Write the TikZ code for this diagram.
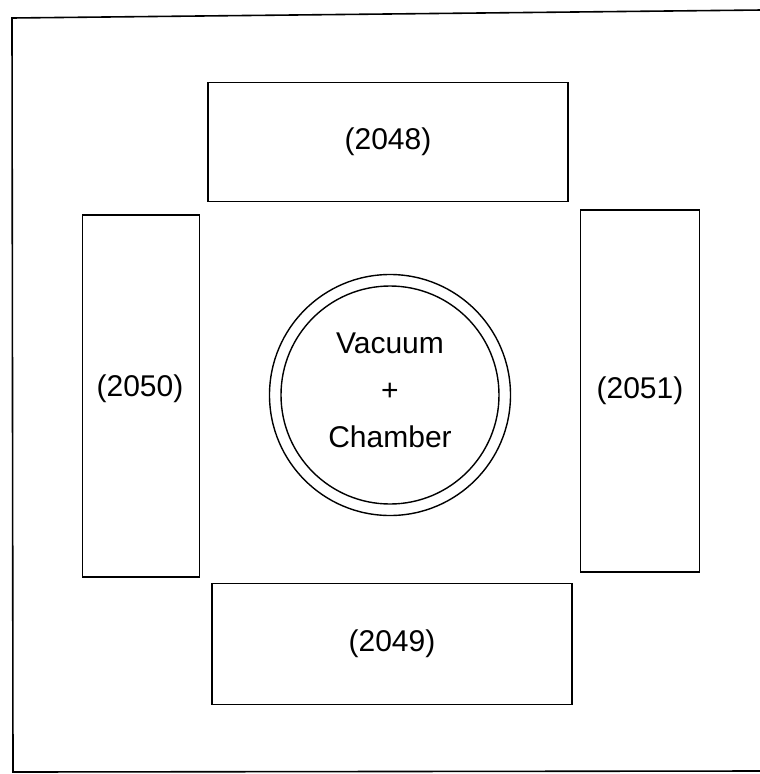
\documentclass[tikz,border=0pt]{standalone}
\usepackage{fontspec}
\setmainfont{Liberation Sans}
\usetikzlibrary{positioning}

\begin{document}
\begin{tikzpicture}[x=1pt, y=-1pt,
    magnet/.style={draw, line width=1.4pt, inner sep=0pt, font=\fontsize{30}{36}\selectfont},
    ring/.style={draw, circle, line width=1.4pt, inner sep=0pt}]
    \useasboundingbox (0,0) rectangle (760,774);
    \draw[line width=1.6pt] (762,10) -- (12,18) -- (13,772) -- (762,771);
    % magnets round the chamber
    \node[magnet, minimum width=360pt, minimum height=119pt] (m2048) at (388,142) {(2048)};
    \node[magnet, minimum width=360pt, minimum height=121pt] (m2049) at (392,644) {(2049)};
    \node[magnet, minimum width=117pt, minimum height=362pt] (m2050) at (141,396) {};
    \node[font=\fontsize{30}{36}\selectfont] at (140,389) {(2050)};
    \node[magnet, minimum width=119pt, minimum height=362pt] (m2051) at (640,391) {(2051)};
    % chamber
    \node[ring, minimum size=241pt] (wall) at (390,395) {};
    \node[ring, minimum size=218pt] (chamber) at (390,395) {};
    \node[align=center, font=\fontsize{30}{47}\selectfont] at (390,390) {Vacuum\\+\\Chamber};
\end{tikzpicture}
\end{document}
